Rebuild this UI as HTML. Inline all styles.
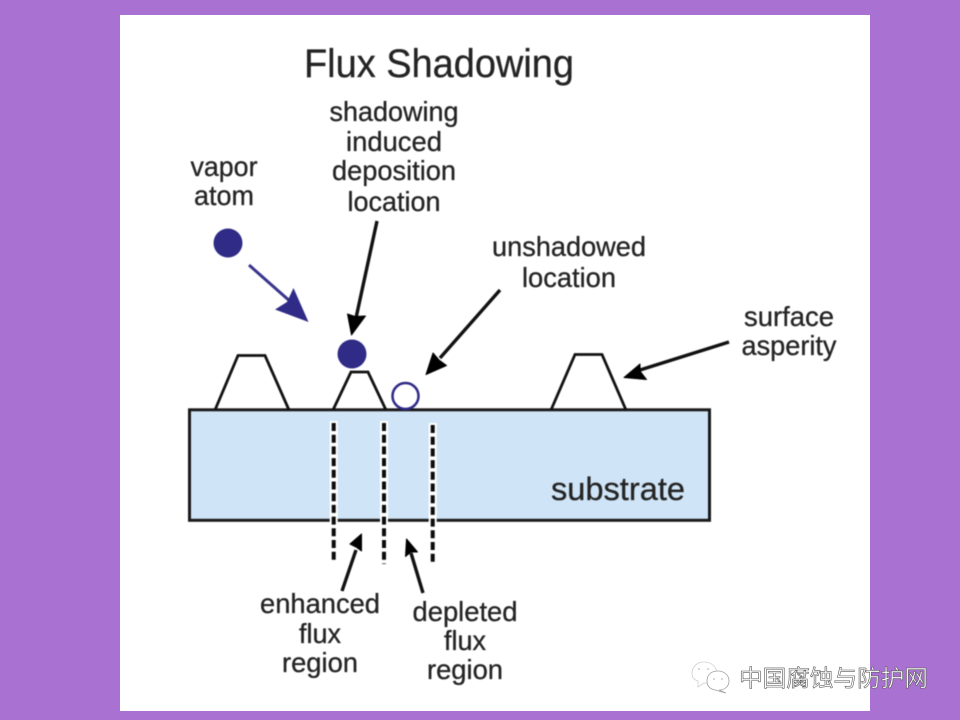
<!DOCTYPE html>
<html><head><meta charset="utf-8"><style>
html,body{margin:0;padding:0;width:960px;height:720px;overflow:hidden;background:#a971d1}
svg{display:block}
text{font-family:"Liberation Sans",sans-serif;fill:#242424;text-anchor:middle}
.soft text{stroke:#242424;stroke-width:.3}
.soft{filter:blur(.45px)}
</style></head><body>
<svg width="960" height="720" viewBox="0 0 960 720">
<rect width="960" height="720" fill="#a971d1"/>
<rect x="120" y="15" width="750" height="696" fill="#fff"/>
<g class="soft">
<rect x="189.500" y="409.800" width="520" height="110.500" fill="#cfe4f6" stroke="#1a1a1a" stroke-width="3"/>
<g fill="none" stroke="#111" stroke-width="2.800">
<path d="M215 410L238 355.500H265L289 410"/>
<path d="M333 410L351 372H368L386 410"/>
<path d="M551 410L575 354.500H602L626 410"/>
</g>
<circle cx="228" cy="243" r="14.500" fill="#2f2b86"/>
<circle cx="352" cy="354" r="14.500" fill="#2f2b86"/>
<circle cx="405.500" cy="396" r="13" fill="#fff" stroke="#2f2b86" stroke-width="2.500"/>
<path d="M249 265L292 303" stroke="#39358c" stroke-width="3"/>
<path d="M308.500 322L275 309.500L287 302L293.500 288Z" fill="#2f2b86"/>
<g stroke="#111" stroke-width="3.400" fill="none">
<path d="M377 221L356 318"/>
<path d="M500 290L440 358"/>
<path d="M729 342L640 370"/>
<path d="M342 591L356 550"/>
<path d="M423 593L411 553"/>
</g>
<g fill="#000" stroke="#000" stroke-width="1" stroke-linejoin="round">
<path d="M351.500 335L347.500 314L355 316.500L365.500 316Z"/>
<path d="M426 374.500L433 353L439 360L446.500 365.500Z"/>
<path d="M624 377.500L640 364L640 371L646.500 379.500Z"/>
<path d="M361.500 534L361.500 551L356 547L350 544Z"/>
<path d="M406.500 539L417.500 552L411 552L405.500 556.500Z"/>
</g>
<g stroke="#fff" stroke-width="8" fill="none">
<path d="M333.700 421V563"/>
<path d="M384 421V565"/>
<path d="M432.700 423V565"/>
</g>
<g stroke="#0c0c0c" stroke-width="4" stroke-dasharray="8 3.700" fill="none">
<path d="M333.700 423V562"/>
<path d="M384 423V564"/>
<path d="M432.700 425V564"/>
</g>
<text x="439" y="77" font-size="39.500" textLength="270" lengthAdjust="spacingAndGlyphs">Flux Shadowing</text>
<g font-size="28">
<text x="394" y="121" textLength="129" lengthAdjust="spacingAndGlyphs">shadowing</text>
<text x="394" y="151" textLength="96" lengthAdjust="spacingAndGlyphs">induced</text>
<text x="394" y="180" textLength="124" lengthAdjust="spacingAndGlyphs">deposition</text>
<text x="394" y="211" textLength="93" lengthAdjust="spacingAndGlyphs">location</text>
<text x="224" y="176" textLength="67" lengthAdjust="spacingAndGlyphs">vapor</text>
<text x="224" y="205" textLength="60" lengthAdjust="spacingAndGlyphs">atom</text>
<text x="569" y="256" textLength="154" lengthAdjust="spacingAndGlyphs">unshadowed</text>
<text x="569" y="287" textLength="94" lengthAdjust="spacingAndGlyphs">location</text>
<text x="789" y="326" textLength="90" lengthAdjust="spacingAndGlyphs">surface</text>
<text x="789" y="355" textLength="95" lengthAdjust="spacingAndGlyphs">asperity</text>
<text x="320" y="613" textLength="120" lengthAdjust="spacingAndGlyphs">enhanced</text>
<text x="320" y="643" textLength="42" lengthAdjust="spacingAndGlyphs">flux</text>
<text x="320" y="672" textLength="76" lengthAdjust="spacingAndGlyphs">region</text>
<text x="465" y="621" textLength="105" lengthAdjust="spacingAndGlyphs">depleted</text>
<text x="465" y="650" textLength="42" lengthAdjust="spacingAndGlyphs">flux</text>
<text x="465" y="679" textLength="76" lengthAdjust="spacingAndGlyphs">region</text>
</g>
<text x="618" y="500" font-size="32.500" textLength="134" lengthAdjust="spacingAndGlyphs">substrate</text>
</g>
<g fill="#fff" stroke-width=".8">
<path d="M692 674C692 665 699 662 704 662C711 662 717 667 717 673C717 680 710 684 704 683L698 687L698 681C694 680 692 677 692 674Z" stroke="#d0d0d0"/>
<path d="M707 681C707 674 712 671 718 671C724 671 729 675 729 681C729 687 724 690 719 690L726 693L715 690C710 689 707 686 707 681Z" stroke="#a0a0a0"/>
</g>
<g fill="#aaa"><circle cx="699" cy="669" r=".8"/><circle cx="708" cy="669" r=".8"/><circle cx="714" cy="679" r=".8"/><circle cx="722" cy="679" r=".8"/></g>
<text x="833.500" y="686" font-size="23" textLength="189" lengthAdjust="spacingAndGlyphs" style="font-family:'Liberation Sans','Noto Sans CJK SC',sans-serif;fill:#fff;stroke:#5a5a5a;stroke-width:.6">中国腐蚀与防护网</text>
</svg>
</body></html>
